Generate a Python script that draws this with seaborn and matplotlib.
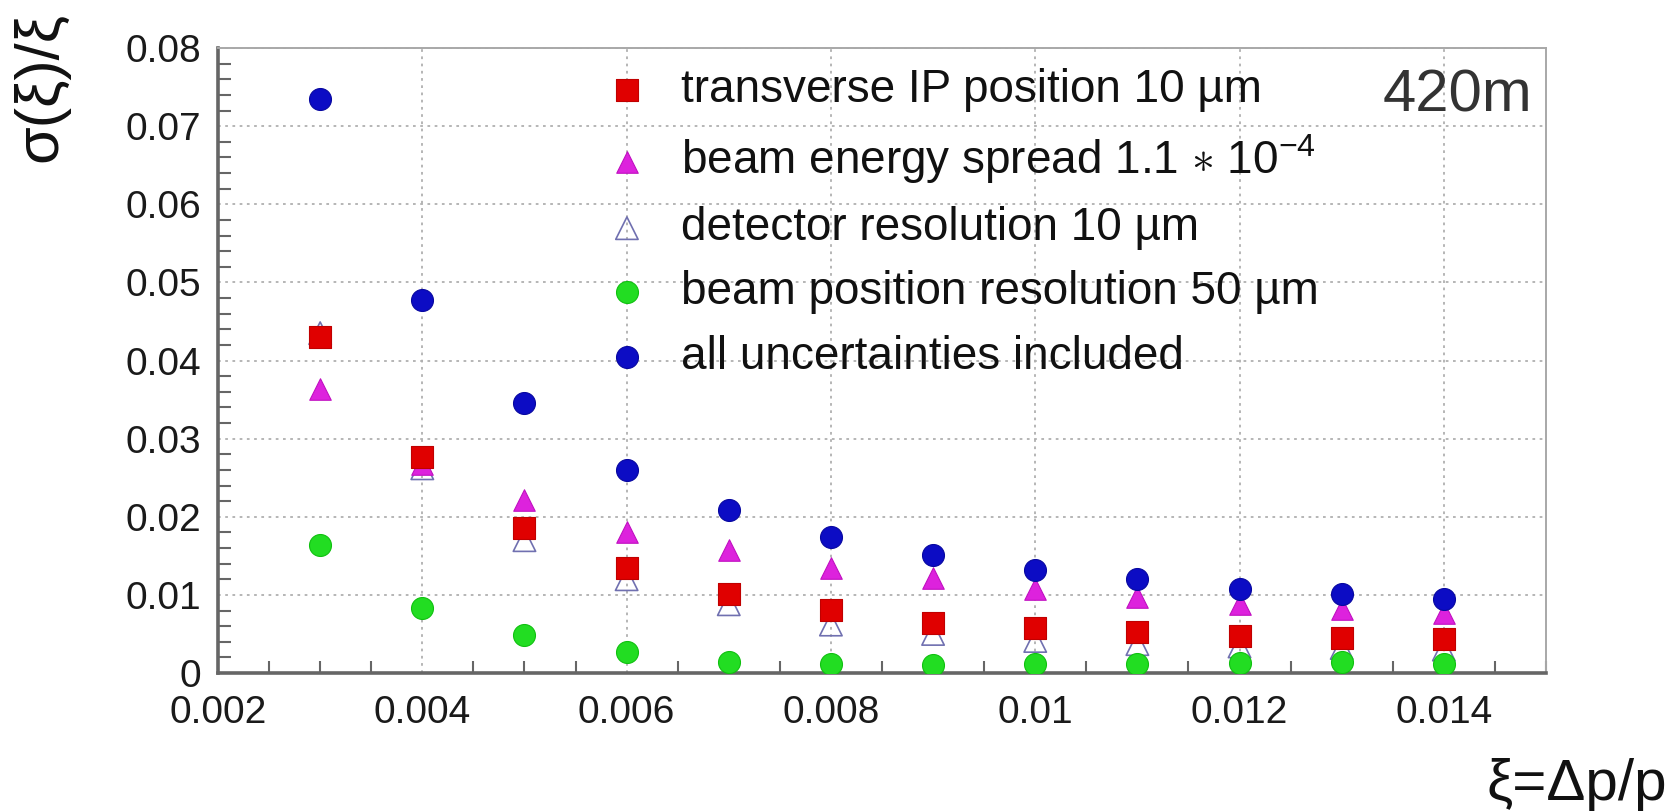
import numpy as np
import pandas as pd
import matplotlib
matplotlib.use("Agg")
import matplotlib.pyplot as plt
from matplotlib.markers import MarkerStyle
from matplotlib.ticker import MultipleLocator
import seaborn as sns

# ---------------- data ----------------
xi = [0.003, 0.004, 0.005, 0.006, 0.007, 0.008, 0.009, 0.010, 0.011, 0.012, 0.013, 0.014]
ip_position = [0.0430, 0.0277, 0.0185, 0.0134, 0.0101, 0.0081, 0.0064, 0.0057, 0.0052, 0.0048, 0.0045, 0.0043]
energy_spread = [0.0364, 0.0268, 0.0221, 0.0181, 0.0157, 0.0135, 0.0121, 0.0108, 0.0097, 0.0088, 0.0082, 0.0077]
detector_res = [0.0435, 0.0262, 0.0170, 0.0120, 0.0088, 0.0062, 0.0050, 0.0041, 0.0037, 0.0034, 0.0032, 0.0030]
beam_position = [0.0164, 0.0083, 0.0049, 0.0027, 0.0014, 0.0011, 0.0010, 0.0011, 0.0011, 0.0013, 0.0014, 0.0012]
all_uncert = [0.0735, 0.0478, 0.0346, 0.0260, 0.0209, 0.0174, 0.0151, 0.0132, 0.0120, 0.0108, 0.0101, 0.0095]

series_labels = [
    "transverse IP position 10 µm",
    r"beam energy spread 1.1 $\ast$ 10$^{-4}$",
    "detector resolution 10 µm",
    "beam position resolution 50 µm",
    "all uncertainties included",
]
x_ticks = [0.002, 0.004, 0.006, 0.008, 0.010, 0.012, 0.014]
x_tick_labels = ["0.002", "0.004", "0.006", "0.008", "0.01", "0.012", "0.014"]
y_ticks = [0.0, 0.01, 0.02, 0.03, 0.04, 0.05, 0.06, 0.07, 0.08]
y_tick_labels = ["0", "0.01", "0.02", "0.03", "0.04", "0.05", "0.06", "0.07", "0.08"]

df = pd.DataFrame({
    "xi": xi * 5,
    "value": ip_position + energy_spread + detector_res + beam_position + all_uncert,
    "series": sum([[lab] * len(xi) for lab in series_labels], []),
})

# ---------------- style ----------------
sns.set_theme(style="white")
plt.rcParams["font.family"] = ["Liberation Sans", "DejaVu Sans"]
plt.rcParams["mathtext.fontset"] = "custom"
plt.rcParams["mathtext.rm"] = "Liberation Sans"
plt.rcParams["mathtext.it"] = "Liberation Sans:italic"
plt.rcParams["mathtext.bf"] = "Liberation Sans:bold"

W, H = 1674, 811
fig = plt.figure(figsize=(W / 100, H / 100), dpi=100)
fig.patch.set_facecolor("white")
L, R, T, B = 218, 1546, 48, 673
ax = fig.add_axes([L / W, 1 - B / H, (R - L) / W, (B - T) / H])
ax.set_facecolor("white")

styles = [
    dict(marker="s", s=270, color="#e00000", edgecolor="#c00000", linewidth=0.8, zorder=5),
    dict(marker="^", s=240, color="#dd22dd", edgecolor="#c010c0", linewidth=0.8, zorder=4),
    dict(marker=MarkerStyle("^", fillstyle="none"), s=260, color="#7070b0", linewidth=1.2, zorder=3),
    dict(marker="o", s=250, color="#22dd22", edgecolor="#10c010", linewidth=0.8, zorder=6),
    dict(marker="o", s=250, color="#0c0cc4", edgecolor="#0808a0", linewidth=0.8, zorder=7),
]

for lab, st in zip(series_labels, styles):
    sub = df[df["series"] == lab]
    sns.scatterplot(data=sub, x="xi", y="value", ax=ax, label=lab, **st)

ax.set_xlim(0.002, 0.015)
ax.set_ylim(0.0, 0.08)
ax.set_xticks(x_ticks, x_tick_labels)
ax.set_yticks(y_ticks, y_tick_labels)
ax.xaxis.set_minor_locator(MultipleLocator(0.0005))
ax.yaxis.set_minor_locator(MultipleLocator(0.002))
ax.set_xlabel("")
ax.set_ylabel("")

ax.grid(True, which="major", color="#b0b0b0", linestyle=(0, (1.5, 2.5)), linewidth=1.3, zorder=0)
ax.set_axisbelow(True)

ax.tick_params(axis="both", which="major", direction="in", length=14, width=1.8,
               color="#666666", labelsize=28, labelcolor="#1a1a1a", top=False, right=False)
ax.tick_params(axis="both", which="minor", direction="in", length=9, width=1.5,
               color="#666666", top=False, right=False, bottom=True, left=True)
ax.tick_params(axis="x", which="major", pad=16)
ax.tick_params(axis="y", which="major", pad=12)

for side in ["left", "bottom"]:
    ax.spines[side].set_color("#666666")
    ax.spines[side].set_linewidth(2.6)
for side in ["top", "right"]:
    ax.spines[side].set_color("#a8a8a8")
    ax.spines[side].set_linewidth(1.4)

leg = ax.legend(loc="upper left", bbox_to_anchor=(604 / W, 1 - 68 / H),
                bbox_transform=fig.transFigure, frameon=False, fontsize=33,
                borderpad=0, borderaxespad=0, handlelength=1.0, handletextpad=0.67,
                labelspacing=0.44, scatterpoints=1)
for t in leg.get_texts():
    t.set_color("#111111")

fig.text(1532 / W, 1 - 111 / H, "420m", ha="right", va="baseline", fontsize=43, color="#333333")
fig.text(1667 / W, 1 - 800 / H, "ξ=Δp/p", ha="right", va="baseline", fontsize=42, color="#111111")
fig.text(41 / W, 1 - 12 / H, "σ(ξ)/ξ", ha="center", va="top", rotation=90, fontsize=44, color="#111111")

fig.savefig("out.png", dpi=100, facecolor="white")
